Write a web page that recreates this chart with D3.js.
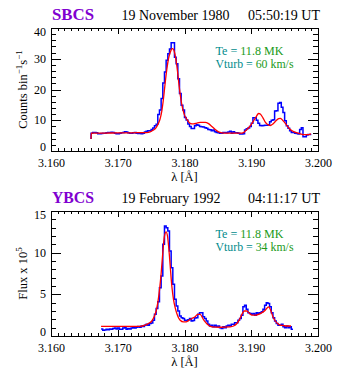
<!DOCTYPE html>
<html><head><meta charset="utf-8">
<script src="https://cdn.jsdelivr.net/npm/d3@7"></script>
<style>body{margin:0;background:#fff}svg{display:block}</style>
</head><body>
<svg id="c" width="356" height="368"></svg>
<script>
// ---------- data ----------
const xTickValues = [3.160, 3.170, 3.180, 3.190, 3.200];
const xTickLabels = ["3.160", "3.170", "3.180", "3.190", "3.200"];
const binWidth = 0.00025;

// SBCS 19 Nov 1980 (counts bin^-1 s^-1)
const sbcsTitle = ["SBCS", "19 November 1980", "05:50:19 UT"];
const sbcsParams = ["11.8 MK", "60 km/s"];
const sbcsYTicks = [0, 10, 20, 30, 40];
const sbcsBlueStart = 3.1660;
const sbcsBlueEdge = 3.9;
const sbcsBlue = [
 5.8, 6.0, 6.0, 5.9, 5.6, 5.6, 5.7, 5.8, 5.8, 5.9,
 6.0, 6.0, 6.1, 6.0, 5.8, 5.6, 5.6, 5.8, 5.9, 6.0,
 6.3, 6.2, 5.9, 5.8, 5.8, 5.9, 6.0, 5.8, 5.7, 5.7,
 5.6, 5.8, 6.2, 6.4, 6.6, 6.6, 7.0, 7.5, 8.2, 8.7,
 11.9, 13.3, 17.1, 22.1, 25.7, 29.5, 31.6, 33.2, 35.2, 35.2,
 30.5, 28.4, 23.5, 18.7, 14.9, 13.3, 10.9, 10.1, 8.8,
 8.0, 7.3, 7.3, 8.2, 8.5, 8.4, 8.0, 7.9, 7.8, 7.6, 7.4, 7.0, 6.9, 6.6, 6.8, 6.3, 6.0,
 5.9, 5.8, 5.8, 6.0, 6.0, 5.9, 6.2, 6.4, 5.8, 6.3, 5.9,
 5.9, 5.8, 5.5, 5.5, 5.6,
 6.8, 7.2, 7.5, 8.0, 9.0, 10.8, 10.8, 10.0, 9.0, 8.3, 8.2, 8.3, 8.4, 8.4, 8.5, 9.5, 10.0, 10.2,
 13.0, 13.1, 15.5, 15.8, 14.2, 12.5, 9.8, 8.2, 7.4, 6.6, 6.0, 6.0, 5.8, 5.7, 5.5, 7.0, 7.6, 4.6, 4.6, 5.2, 5.4, 5.4
];
const sbcsRedLambda = [
 3.1660, 3.16603, 3.1680, 3.1700, 3.1720, 3.1740, 3.17435, 3.17485, 3.17535, 3.17575,
 3.1761, 3.17635, 3.1766, 3.17685, 3.1771, 3.17735, 3.1776, 3.17785, 3.1781, 3.17825,
 3.17845, 3.1787, 3.17895, 3.1792, 3.17945, 3.1797, 3.17995, 3.1802, 3.18045, 3.18085,
 3.18135, 3.18185, 3.18235, 3.1831, 3.1836, 3.1841, 3.1846, 3.1851, 3.1856, 3.18635,
 3.18735, 3.18835, 3.18885, 3.18935, 3.18985, 3.19035, 3.19075, 3.1911, 3.19135, 3.19175,
 3.1921, 3.19245, 3.19285, 3.19325, 3.1936, 3.1941, 3.19435, 3.1947, 3.1951, 3.19545,
 3.19585, 3.19635, 3.19685, 3.19735, 3.19785, 3.19835, 3.19895
];
const sbcsRed = [
 3.9, 5.8, 5.8, 5.9, 5.9, 6.0, 6.0, 6.2, 6.8, 7.6,
 9.0, 10.5, 13, 17, 22, 26.5, 30, 32, 33.2, 33.3,
 32.5, 30, 26, 21, 17, 14, 12, 10.8, 10, 9.0,
 8.8, 9.1, 9.3, 9.3, 8.9, 8.0, 7.0, 6.2, 5.9, 5.8,
 5.8, 5.8, 6.0, 7.0, 8.2, 9.8, 11.2, 12.2, 12.0, 10.8,
 9.4, 8.6, 8.3, 8.8, 9.6, 10.5, 10.6, 10.0, 9.0, 8.0,
 7.0, 6.3, 5.9, 5.6, 5.3, 5.3, 5.6
];

// YBCS 19 Feb 1992 (flux x 10^5)
const ybcsTitle = ["YBCS", "19 February 1992", "04:11:17 UT"];
const ybcsParams = ["11.8 MK", "34 km/s"];
const ybcsYTicks = [0, 5, 10, 15];
const ybcsBlueStart = 3.1675;
const ybcsBlue = [
 0.85, 0.70, 0.72, 0.80, 0.75, 0.85, 0.80, 0.90, 0.95, 0.85,
 0.95, 0.82, 0.80, 0.95, 1.0, 0.82, 0.90, 0.85, 0.95, 1.0,
 0.95, 1.05, 1.15, 1.05, 1.2, 1.15, 1.3, 1.4, 1.3, 1.5,
 1.55, 1.9, 2.6, 3.3, 4.1, 5.8, 7.2, 11.0, 13.2, 13.0,
 12.6, 10.2, 8.2, 6.2, 4.4, 3.6, 3.0, 2.4, 2.2, 2.1,
 1.9, 1.85, 1.95, 2.1, 1.8, 1.85, 2.15, 2.2, 2.6, 2.8,
 2.8, 2.3, 2.1, 1.8, 1.4, 1.2, 1.3, 1.1, 1.3, 1.1,
 1.2, 1.0, 0.9, 1.1, 1.0, 1.2, 1.3, 1.2, 1.4, 1.4,
 1.6, 1.6, 1.9, 2.1, 2.5, 3.5, 3.7, 3.2, 2.8, 2.7,
 2.6, 2.7, 2.5, 2.8, 2.7, 2.8, 2.9, 3.2, 3.7, 4.0,
 3.9, 3.5, 2.8, 2.2, 1.8, 1.5, 1.3, 1.3, 1.4, 1.1,
 1.0, 1.2, 1.0, 1.1, 0.8
];
const ybcsRedLambda = [
 3.1675, 3.17335, 3.1741, 3.1746, 3.1751, 3.17545, 3.17575, 3.176, 3.17625, 3.1765,
 3.17675, 3.177, 3.17725, 3.17745, 3.17765, 3.17785, 3.1781, 3.17835, 3.1786, 3.17885,
 3.1791, 3.17935, 3.17985, 3.18025, 3.1806, 3.1811, 3.1816, 3.18195, 3.18235, 3.18275,
 3.1831, 3.1836, 3.1841, 3.18535, 3.18685, 3.18735, 3.18785, 3.18825, 3.1886, 3.18895,
 3.18935, 3.18975, 3.1901, 3.1906, 3.1911, 3.1916, 3.1921, 3.1926, 3.19295, 3.19325,
 3.1936, 3.19395, 3.19435, 3.19485, 3.19535, 3.19595
];
const ybcsRed = [
 1.16, 1.16, 1.3, 1.5, 1.8, 2.3, 3.0, 4.0, 5.5, 7.5,
 10, 12.0, 12.5, 12.0, 10.5, 8.5, 6.0, 4.4, 3.4, 2.7,
 2.2, 1.9, 1.7, 1.7, 1.85, 2.1, 2.3, 2.6, 2.6, 2.1,
 1.7, 1.3, 1.1, 1.05, 1.1, 1.2, 1.5, 2.0, 2.6, 3.0,
 3.0, 2.7, 2.5, 2.5, 2.6, 2.8, 3.1, 3.5, 3.0, 2.3,
 1.8, 1.5, 1.3, 1.25, 1.2, 1.2
];

// ---------- drawing ----------
const FONT = "'Liberation Serif','DejaVu Serif',serif";
const svg = d3.select('#c');
svg.append('rect').attr('width', 356).attr('height', 368).attr('fill', '#fff');

const L = 51, R = 318;
const x = d3.scaleLinear().domain([3.160, 3.200]).range([L, R]);

function drawPanel(o) {
  const y = d3.scaleLinear().domain([0, o.yMax]).range([o.bottom, o.top]);
  const g = svg.append('g');

  // blue observed histogram
  const pts = [];
  if (o.blueEdge != null) pts.push([o.blueStart, o.blueEdge]);
  o.blue.forEach((v, i) => pts.push([o.blueStart + i * binWidth, v]));
  pts.push([o.blueStart + o.blue.length * binWidth, o.blue[o.blue.length - 1]]);
  g.append('path')
    .attr('d', d3.line().x(d => x(d[0])).y(d => y(d[1])).curve(d3.curveStepAfter)(pts))
    .attr('fill', 'none').attr('stroke', '#0000ff').attr('stroke-width', 1.5);

  // red model
  const rp = o.redL.map((l, i) => [l, o.red[i]]);
  g.append('path')
    .attr('d', d3.line().x(d => x(d[0])).y(d => y(d[1])).curve(d3.curveMonotoneX)(rp))
    .attr('fill', 'none').attr('stroke', '#ff0000').attr('stroke-width', 1.3);

  // ticks (inward, all four sides)
  const xMinor = d3.range(0, 41).map(i => 3.160 + i * 0.001).filter((v, i) => i % 10 !== 0);
  const yMinor = d3.range(0, o.yMax + 1e-9, o.yMinorStep).filter(v => Math.abs(v / o.yMajorStep - Math.round(v / o.yMajorStep)) > 1e-6);
  function addAxis(gen, tr, vals, size) {
    const a = g.append('g').attr('transform', tr)
      .call(gen.tickValues(vals).tickSize(-size).tickFormat(''));
    a.select('.domain').remove();
    a.selectAll('line').attr('stroke', '#000').attr('shape-rendering', 'crispEdges');
  }
  addAxis(d3.axisBottom(x), `translate(0,${o.bottom})`, xTickValues, 6);
  addAxis(d3.axisBottom(x), `translate(0,${o.bottom})`, xMinor, 3);
  addAxis(d3.axisTop(x), `translate(0,${o.top})`, xTickValues, 6);
  addAxis(d3.axisTop(x), `translate(0,${o.top})`, xMinor, 3);
  addAxis(d3.axisLeft(y), `translate(${L},0)`, o.yTicks, 10);
  addAxis(d3.axisLeft(y), `translate(${L},0)`, yMinor, 5);
  addAxis(d3.axisRight(y), `translate(${R},0)`, o.yTicks, 10);
  addAxis(d3.axisRight(y), `translate(${R},0)`, yMinor, 5);

  // frame
  g.append('rect').attr('x', L + 0.5).attr('y', o.top + 0.5)
    .attr('width', R - L).attr('height', o.bottom - o.top)
    .attr('fill', 'none').attr('stroke', '#000').attr('stroke-width', 1)
    .attr('shape-rendering', 'crispEdges');

  // x tick labels
  g.selectAll('.xl').data(xTickValues).enter().append('text')
    .attr('x', d => x(d) + 0.5).attr('y', o.bottom + 16)
    .attr('text-anchor', 'middle').attr('font-family', FONT).attr('font-size', 12)
    .attr('fill', '#000').text((d, i) => xTickLabels[i]);
  // y tick labels
  g.selectAll('.yl').data(o.yTicks).enter().append('text')
    .attr('x', 46).attr('y', d => Math.min(o.bottom - 4, Math.max(o.top + 4, y(d))) + 4)
    .attr('text-anchor', 'end').attr('font-family', FONT).attr('font-size', 12)
    .attr('fill', '#000').text(d => d);

  // x title
  g.append('text').attr('x', (L + R) / 2).attr('y', o.bottom + 30)
    .attr('text-anchor', 'middle').attr('font-family', FONT).attr('font-size', 12.5)
    .text('λ [Å]');

  // y title
  const yt = g.append('text')
    .attr('transform', `translate(27,${(o.top + o.bottom) / 2}) rotate(-90)`)
    .attr('text-anchor', 'middle').attr('font-family', FONT).attr('font-size', 12.5);
  o.yTitle.forEach(p => {
    const t = yt.append('tspan').text(p.t);
    if (p.sup) t.attr('dy', -5).attr('font-size', 9);
    if (p.down) t.attr('dy', 5);
  });

  // titles
  const ty = o.top - 8.5;
  g.append('text').attr('x', 52).attr('y', ty).attr('font-family', FONT)
    .attr('font-weight', 'bold').attr('font-size', 16).attr('fill', '#8000d0')
    .attr('textLength', 42).attr('lengthAdjust', 'spacingAndGlyphs').text(o.title[0]);
  g.append('text').attr('x', 121.5).attr('y', ty).attr('font-family', FONT)
    .attr('font-size', 14).attr('fill', '#000')
    .attr('textLength', o.dateLen).attr('lengthAdjust', 'spacingAndGlyphs').text(o.title[1]);
  g.append('text').attr('x', 248).attr('y', ty).attr('font-family', FONT)
    .attr('font-size', 14).attr('fill', '#000')
    .attr('textLength', 72).attr('lengthAdjust', 'spacingAndGlyphs').text(o.title[2]);

  // parameters
  const t1 = g.append('text').attr('x', 215.5).attr('y', o.top + 26.5)
    .attr('font-family', FONT).attr('font-size', 11.5)
    .attr('textLength', 68).attr('lengthAdjust', 'spacingAndGlyphs');
  t1.append('tspan').attr('fill', '#008b8b').text('Te = ');
  t1.append('tspan').attr('fill', '#1a9a1a').text(o.params[0]);
  const t2 = g.append('text').attr('x', 215.5).attr('y', o.top + 39.5)
    .attr('font-family', FONT).attr('font-size', 11.5)
    .attr('textLength', 78).attr('lengthAdjust', 'spacingAndGlyphs');
  t2.append('tspan').attr('fill', '#008b8b').text('Vturb = ');
  t2.append('tspan').attr('fill', '#1a9a1a').text(o.params[1]);
}

drawPanel({
  top: 28, bottom: 151, yMax: 40, yTicks: sbcsYTicks, yMajorStep: 10, yMinorStep: 2,
  blue: sbcsBlue, blueStart: sbcsBlueStart, blueEdge: sbcsBlueEdge,
  redL: sbcsRedLambda, red: sbcsRed,
  title: sbcsTitle, dateLen: 108, params: sbcsParams,
  yTitle: [{t: 'Counts bin'}, {t: '−1', sup: true}, {t: 's', down: true}, {t: '−1', sup: true}]
});
drawPanel({
  top: 211, bottom: 336, yMax: 15, yTicks: ybcsYTicks, yMajorStep: 5, yMinorStep: 1,
  blue: ybcsBlue, blueStart: ybcsBlueStart, blueEdge: null,
  redL: ybcsRedLambda, red: ybcsRed,
  title: ybcsTitle, dateLen: 99, params: ybcsParams,
  yTitle: [{t: 'Flux x 10'}, {t: '5', sup: true}]
});
</script>
</body></html>
